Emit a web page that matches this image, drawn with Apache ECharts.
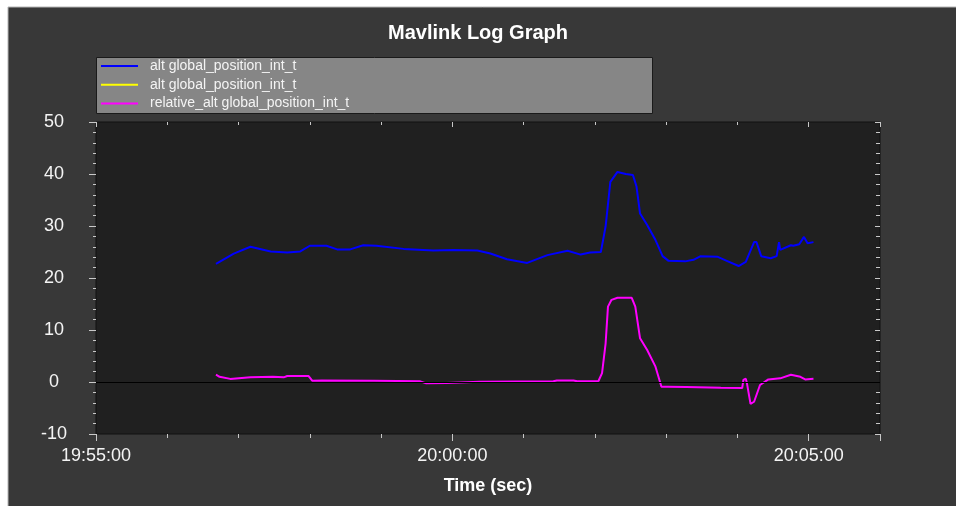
<!DOCTYPE html>
<html>
<head>
<meta charset="utf-8">
<title>Mavlink Log Graph</title>
<script src="https://cdn.jsdelivr.net/npm/echarts@6/dist/echarts.min.js"></script>
<style>
  html, body { margin: 0; padding: 0; background: #fff; }
  #chart { width: 956px; height: 506px; }
</style>
</head>
<body>
<div id="chart"></div>
<script>
// legend labels (two series share the same name in the original)
const legendLabels = ['alt global_position_int_t', 'alt global_position_int_t', 'relative_alt global_position_int_t']
const seriesColors = ['#0000ff', '#ffff00', '#ff00ff']

// alt (blue)
const altTimes = ['19:56:41', '19:56:56', '19:57:10', '19:57:27', '19:57:41', '19:57:52', '19:58:00', '19:58:14',
  '19:58:23', '19:58:34', '19:58:45', '19:58:56', '19:59:19', '19:59:44', '20:00:01', '20:00:21', '20:00:32',
  '20:00:46', '20:01:03', '20:01:20', '20:01:37', '20:01:48', '20:01:56', '20:02:05', '20:02:09', '20:02:13',
  '20:02:19', '20:02:26', '20:02:32', '20:02:35', '20:02:38', '20:02:44', '20:02:51', '20:02:57', '20:03:02',
  '20:03:16', '20:03:23', '20:03:29', '20:03:43', '20:03:51', '20:04:01', '20:04:07', '20:04:08', '20:04:14',
  '20:04:16', '20:04:20', '20:04:28', '20:04:33', '20:04:35', '20:04:36', '20:04:45', '20:04:47', '20:04:52',
  '20:04:56', '20:04:59', '20:05:04']
const altValues = [22.7, 24.7, 26.0, 25.1, 24.9, 25.1, 26.2, 26.2,
  25.5, 25.5, 26.3, 26.2, 25.6, 25.3, 25.4, 25.3, 24.7,
  23.6, 22.9, 24.4, 25.25, 24.5, 24.9, 25.0, 29.9, 38.5,
  40.4, 40.0, 39.8, 37.6, 32.4, 30.2, 27.3, 24.2, 23.3,
  23.2, 23.5, 24.2, 24.1, 23.3, 22.3, 23.1, 22.8, 26.9,
  26.9, 24.2, 23.8, 24.2, 26.9, 25.4, 26.3, 26.2, 26.5,
  27.9, 26.7, 26.9]

// second alt series (yellow) - hidden under the blue one, no samples visible
const alt2Times = []
const alt2Values = []

// relative_alt (magenta)
const relTimes = ['19:56:41', '19:56:44', '19:56:53', '19:57:10', '19:57:29', '19:57:38', '19:57:41', '19:57:59',
  '19:58:02', '19:58:10', '19:58:54', '19:59:33', '19:59:38', '19:59:55', '20:00:23', '20:01:25', '20:01:28',
  '20:01:42', '20:01:45', '20:02:03', '20:02:06', '20:02:09', '20:02:11', '20:02:14', '20:02:19', '20:02:31',
  '20:02:34', '20:02:38', '20:02:44', '20:02:51', '20:02:56', '20:03:01', '20:03:17', '20:03:46', '20:04:04',
  '20:04:05', '20:04:07', '20:04:08', '20:04:11', '20:04:14', '20:04:19', '20:04:26', '20:04:36', '20:04:45',
  '20:04:53', '20:04:57', '20:05:04']
const relValues = [1.4, 1.0, 0.6, 0.9, 1.0, 0.9, 1.15, 1.15,
  0.26, 0.3, 0.26, 0.13, -0.26, -0.2, 0.06, 0.13, 0.3,
  0.3, 0.13, 0.19, 1.7, 7.4, 14.5, 15.8, 16.2, 16.2,
  14.5, 8.4, 6.15, 2.95, -0.9, -0.9, -0.96, -1.1, -1.15,
  0.4, 0.63, -0.26, -4.2, -3.8, -0.58, 0.5, 0.7, 1.4,
  1.0, 0.5, 0.63]

// axis setup
const xMin = '19:55:00'
const xMax = '20:06:00'
const xStep = 300
const yMin = -10
const yMax = 50
const yStep = 10

const toSec = (s) => {
  const p = s.split(':').map(Number)
  return p[0] * 3600 + p[1] * 60 + p[2]
}
const fmtTime = (v) => {
  const h = Math.floor(v / 3600)
  const m = Math.floor((v % 3600) / 60)
  const s = Math.floor(v % 60)
  return `${h}:${String(m).padStart(2, '0')}:${String(s).padStart(2, '0')}`
}
const pairs = (times, values) => times.map((t, i) => [toSec(t), values[i]])

const tickColor = '#c8c8c8'
const labelFont = 'Liberation Sans, Arial, sans-serif'

const chart = echarts.init(document.getElementById('chart'))

const baseX = {
  type: 'value',
  min: toSec(xMin),
  max: toSec(xMax),
  interval: xStep,
  splitLine: { show: false },
  axisLine: { show: false, onZero: false }
}
const baseY = {
  type: 'value',
  min: yMin,
  max: yMax,
  interval: yStep,
  splitLine: { show: false },
  axisLine: { show: false, onZero: false }
}

chart.setOption({
  backgroundColor: '#ffffff',
  animation: false,
  graphic: {
    elements: [{
      type: 'rect',
      z: -10,
      shape: { x: 8, y: 7, width: 960, height: 510 },
      style: { fill: '#383838', stroke: '#b4b4b4', lineWidth: 1 }
    }, {
      // legend box
      type: 'rect',
      z: -5,
      shape: { x: 96.5, y: 57.5, width: 556, height: 56 },
      style: { fill: '#868686', stroke: '#1a1a1a', lineWidth: 1 }
    }]
  },
  title: {
    text: 'Mavlink Log Graph',
    left: 'center',
    top: 23,
    padding: [0, 0, 0, 18],
    textStyle: { color: '#ffffff', fontSize: 20, fontWeight: 'bold', fontFamily: labelFont }
  },
  legend: {
    orient: 'vertical',
    left: 101,
    top: 59,
    padding: 0,
    icon: 'rect',
    itemWidth: 37,
    itemHeight: 2,
    itemGap: 4.7,
    formatter: (name) => legendLabels[Number(name.slice(1))],
    textStyle: { color: '#f4f4f4', fontSize: 14, lineHeight: 14, fontFamily: labelFont, padding: [0, 0, 0, 7] }
  },
  grid: {
    left: 96,
    right: 76,
    top: 122,
    bottom: 72,
    show: true,
    backgroundColor: '#202020',
    borderColor: '#101010',
    borderWidth: 1
  },
  xAxis: [{
    ...baseX,
    position: 'bottom',
    name: 'Time (sec)',
    nameLocation: 'middle',
    nameGap: 43,
    nameTextStyle: { color: '#ffffff', fontSize: 18, fontWeight: 'bold', fontFamily: labelFont },
    axisTick: { show: true, inside: false, length: 7, lineStyle: { color: tickColor } },
    minorTick: { show: true, splitNumber: 5, length: 4, lineStyle: { color: tickColor } },
    axisLabel: { color: '#f4f4f4', fontSize: 18, fontFamily: labelFont, margin: 13, formatter: fmtTime, showMaxLabel: false }
  }, {
    ...baseX,
    position: 'top',
    axisTick: { show: true, inside: true, length: 5, lineStyle: { color: tickColor } },
    minorTick: { show: true, splitNumber: 5, length: 3, lineStyle: { color: tickColor } },
    axisLabel: { show: false }
  }],
  yAxis: [{
    ...baseY,
    position: 'left',
    axisTick: { show: true, inside: false, length: 7, lineStyle: { color: tickColor } },
    minorTick: { show: true, splitNumber: 5, length: 3, lineStyle: { color: tickColor } },
    axisLabel: { color: '#f4f4f4', fontSize: 18, fontFamily: labelFont, align: 'center', margin: 42 }
  }, {
    ...baseY,
    position: 'right',
    axisTick: { show: true, inside: true, length: 5, lineStyle: { color: tickColor } },
    minorTick: { show: true, splitNumber: 5, length: 4, lineStyle: { color: tickColor } },
    axisLabel: { show: false }
  }],
  series: [{
    name: 's0',
    type: 'line',
    symbol: 'none',
    color: seriesColors[0],
    lineStyle: { width: 2 },
    data: pairs(altTimes, altValues),
    markLine: {
      silent: true,
      symbol: 'none',
      label: { show: false },
      lineStyle: { color: '#000000', width: 1, type: 'solid' },
      data: [{ yAxis: 0 }]
    }
  }, {
    name: 's1',
    type: 'line',
    symbol: 'none',
    color: seriesColors[1],
    lineStyle: { width: 2 },
    data: pairs(alt2Times, alt2Values)
  }, {
    name: 's2',
    type: 'line',
    symbol: 'none',
    color: seriesColors[2],
    lineStyle: { width: 2 },
    data: pairs(relTimes, relValues)
  }]
})
</script>
</body>
</html>
